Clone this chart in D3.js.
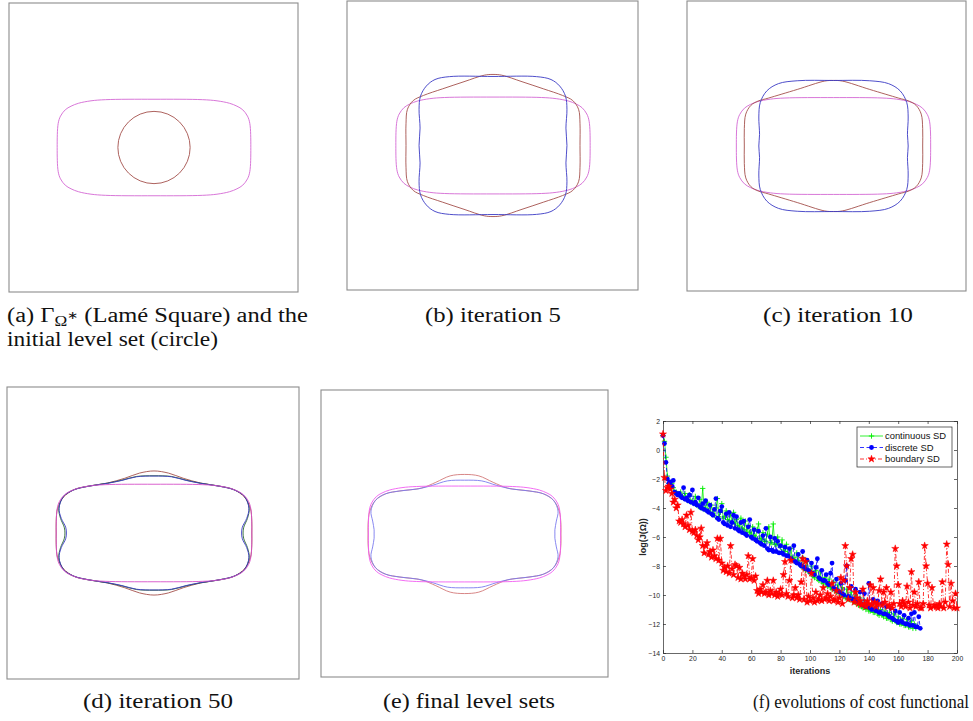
<!DOCTYPE html>
<html>
<head>
<meta charset="utf-8">
<script src="https://cdn.jsdelivr.net/npm/d3@7"></script>
<style>
body { margin: 0; background: #fff; }
svg { display: block; }
.cap { font-family: "Liberation Serif", serif; font-size: 20px; fill: #111; }
.axis text { font-family: "Liberation Sans", Arial, sans-serif; font-size: 6.8px; fill: #262626; }
.axis path, .axis line { stroke: #262626; stroke-width: 0.7; }
</style>
</head>
<body>
<script>
// level set shapes: first quadrant points, in units of half the panel box
var lame = [[0,0.334],[0.335,0.331],[0.436,0.323],[0.523,0.306],[0.574,0.286],[0.614,0.261],[0.647,0.217],[0.663,0.167],[0.67,0]];
var circleR = 0.25;
var brownB = [[0,0.49],[0.06,0.485],[0.2,0.44],[0.35,0.39],[0.48,0.345],[0.55,0.31],[0.59,0.25],[0.60,0.15],[0.60,0]];
var blueB = [[0,0.476],[0.3,0.475],[0.4,0.455],[0.46,0.41],[0.5,0.34],[0.51,0.25],[0.503,0.12],[0.51,0]];
var brownC = [[0,0.452],[0.06,0.448],[0.25,0.39],[0.45,0.33],[0.52,0.31],[0.57,0.28],[0.605,0.22],[0.615,0.12],[0.615,0]];
var blueC = [[0,0.452],[0.25,0.45],[0.38,0.43],[0.46,0.38],[0.505,0.30],[0.515,0.2],[0.51,0.08],[0.515,0]];
var brownD = [[0,0.425],[0.1,0.41],[0.2,0.375],[0.32,0.342],[0.45,0.32],[0.55,0.295],[0.62,0.245],[0.66,0.17],[0.67,0.08],[0.67,0]];
var blueD = [[0,0.39],[0.12,0.385],[0.22,0.36],[0.32,0.34],[0.45,0.32],[0.55,0.295],[0.62,0.25],[0.65,0.17],[0.635,0.1],[0.605,0.04],[0.60,0]];
var greenD = [[0,0.392],[0.12,0.387],[0.22,0.362],[0.32,0.341],[0.45,0.321],[0.55,0.296],[0.62,0.25],[0.652,0.17],[0.64,0.1],[0.615,0.04],[0.61,0]];
var brownE = [[0,0.415],[0.1,0.405],[0.2,0.36],[0.3,0.32],[0.45,0.3],[0.55,0.28],[0.62,0.235],[0.66,0.16],[0.672,0.07],[0.672,0]];
var blueE = [[0,0.375],[0.12,0.37],[0.22,0.34],[0.32,0.315],[0.45,0.3],[0.55,0.28],[0.62,0.235],[0.652,0.16],[0.64,0.09],[0.63,0.03],[0.63,0]];

// cost functional, log(J), one value per iteration
var continuousSD = [1.0, 0.6, -0.5, -1.8, -2.3, -2.4, -2.3, -2.6, -2.9, -2.9,
  -3.0, -3.1, -2.9, -3.2, -3.3, -3.0, -3.4, -3.5, -3.1, -3.6,
  -3.5, -3.7, -3.2, -3.8, -3.9, -3.4, -4.0, -2.65, -4.1, -4.0,
  -3.6, -4.2, -4.3, -3.8, -4.4, -4.5, -4.0, -3.35, -4.6, -4.3,
  -3.7, -4.7, -4.6, -4.2, -4.8, -4.9, -4.4, -5.0, -4.3, -5.1,
  -4.8, -5.2, -5.3, -4.7, -5.4, -5.5, -4.9, -5.6, -5.2, -5.7,
  -5.8, -5.3, -5.9, -6.0, -5.5, -5.1, -6.1, -6.2, -5.7, -6.3,
  -6.3, -5.8, -5.3, -6.4, -6.4, -5.1, -6.5, -6.5, -6.0, -6.6,
  -6.7, -6.2, -6.9, -7.0, -6.5, -7.2, -7.3, -6.8, -7.5, -7.4,
  -7.7, -7.1, -7.6, -7.9, -8.0, -7.4, -8.2, -8.3, -7.7, -8.4,
  -8.5, -8.0, -8.7, -8.8, -8.3, -8.9, -9.0, -8.4, -9.1, -9.2,
  -8.8, -9.3, -9.4, -8.9, -9.5, -9.6, -9.1, -9.7, -9.8, -9.3,
  -9.9, -10.0, -9.5, -10.1, -10.2, -9.6, -10.3, -10.3, -9.8, -10.4,
  -10.5, -10.0, -10.6, -10.7, -10.2, -10.8, -10.9, -10.4, -11.0, -10.6,
  -11.1, -11.1, -10.7, -11.2, -11.2, -10.8, -11.3, -11.4, -11.0, -11.4,
  -11.5, -11.1, -11.6, -11.6, -11.2, -11.7, -11.8, -11.3, -11.8, -11.9,
  -11.5, -12.0, -12.0, -11.6, -12.1, -12.1, -11.7, -12.2, -12.2, -11.8,
  -12.3, -12.0, -12.3];
var discreteSD = [1.0, 0.45, -0.85, -2.0, -2.3, -2.2, -2.5, -2.1, -2.9, -3.0,
  -3.1, -3.0, -3.2, -3.3, -2.6, -3.4, -3.3, -3.5, -3.1, -3.6,
  -2.75, -3.7, -3.6, -3.8, -3.3, -3.9, -4.0, -3.7, -4.1, -3.5,
  -4.2, -4.3, -3.8, -4.4, -4.5, -4.1, -3.35, -4.7, -4.8, -4.2,
  -3.9, -5.0, -5.1, -4.4, -5.2, -4.3, -5.3, -5.0, -4.5, -5.4,
  -4.6, -5.5, -5.6, -5.0, -5.7, -4.9, -5.8, -5.9, -5.3, -4.8,
  -6.0, -6.1, -5.5, -6.2, -6.3, -5.6, -6.4, -6.5, -5.9, -6.6,
  -5.4, -6.8, -6.9, -6.0, -6.9, -7.0, -6.1, -7.0, -6.3, -7.1,
  -6.6, -7.1, -7.2, -6.7, -7.3, -7.3, -6.8, -7.5, -7.6, -6.6,
  -7.7, -7.8, -7.2, -7.9, -8.0, -7.0, -8.1, -8.2, -7.6, -8.3,
  -8.4, -7.8, -8.5, -8.6, -8.1, -7.5, -8.8, -8.9, -8.3, -9.0,
  -9.0, -8.6, -9.2, -9.3, -8.5, -7.8, -9.5, -9.6, -8.9, -9.7,
  -9.8, -9.2, -9.9, -10.0, -9.0, -8.0, -10.1, -10.2, -9.4, -10.3,
  -10.3, -9.6, -10.4, -10.5, -9.8, -10.6, -10.7, -9.9, -10.8, -10.8,
  -9.2, -10.9, -11.0, -10.3, -11.0, -11.1, -10.4, -11.2, -11.2, -10.6,
  -11.3, -11.3, -10.8, -11.4, -11.5, -10.9, -11.6, -11.7, -11.1, -11.8,
  -11.9, -11.2, -11.8, -11.9, -11.4, -12.0, -12.0, -11.6, -12.1, -11.3,
  -12.1, -11.2, -12.2, -12.2, -11.5, -12.3];
var boundarySD = [1.1, -1.9, -2.8, -2.6, -2.5, -2.7, -3.0, -3.6, -3.4, -4.0,
  -3.8, -4.9, -5.0, -4.8, -5.1, -5.3, -4.5, -5.2, -5.5, -4.3,
  -5.6, -5.7, -5.5, -5.9, -6.2, -6.0, -5.4, -6.6, -7.1, -6.6,
  -6.4, -7.2, -7.0, -7.4, -6.9, -7.3, -7.5, -6.1, -7.6, -6.1,
  -7.8, -8.3, -8.1, -8.4, -8.0, -8.5, -6.6, -8.2, -8.6, -7.9,
  -8.0, -8.8, -8.1, -8.9, -8.5, -8.7, -8.9, -8.6, -7.3, -8.9,
  -8.8, -7.5, -9.0, -8.7, -9.7, -9.9, -9.6, -9.8, -9.3, -9.9,
  -9.8, -9.0, -10.0, -9.7, -9.9, -9.0, -10.0, -9.8, -10.1, -9.9,
  -9.6, -10.0, -8.6, -7.7, -9.9, -10.1, -9.0, -7.6, -10.2, -10.0,
  -9.5, -10.2, -10.0, -10.3, -9.1, -7.5, -10.3, -7.7, -10.5, -10.1,
  -10.4, -8.5, -10.2, -10.5, -9.8, -10.4, -10.3, -10.0, -10.4, -9.5,
  -10.3, -10.2, -9.9, -10.4, -10.1, -9.2, -10.4, -10.3, -9.7, -10.5,
  -10.2, -8.8, -10.6, -9.0, -6.6, -8.0, -10.3, -9.5, -7.5, -7.2,
  -10.5, -9.8, -10.2, -10.6, -10.4, -10.7, -9.6, -10.6, -10.8, -10.4,
  -10.6, -9.3, -10.7, -9.5, -10.5, -10.8, -10.6, -9.7, -8.9, -10.7,
  -9.8, -10.5, -9.5, -10.8, -10.7, -9.8, -10.9, -10.6, -6.8, -8.0,
  -9.3, -10.6, -10.8, -10.4, -10.6, -10.8, -9.4, -10.5, -10.9, -8.4,
  -10.7, -9.8, -10.8, -10.6, -9.1, -10.9, -10.9, -10.6, -6.6, -8.0,
  -9.2, -10.7, -10.9, -9.5, -10.8, -10.7, -10.8, -10.9, -10.6, -10.8,
  -9.1, -10.9, -10.5, -6.5, -7.9, -10.8, -9.2, -10.4, -10.9, -9.9,
  -10.9];
var seriesNames = ["continuous SD", "discrete SD", "boundary SD"];
var xTicks = [0, 20, 40, 60, 80, 100, 120, 140, 160, 180, 200];
var yTicks = [-14, -12, -10, -8, -6, -4, -2, 0, 2];

var W = 973, H = 721;
var svg = d3.select("body").append("svg").attr("width", W).attr("height", H);

// mirror a first-quadrant list into a closed ring
function ring(q) {
  var pts = [];
  q.forEach(function (p) { pts.push([p[0], p[1]]); });
  q.slice(0, -1).reverse().forEach(function (p) { pts.push([p[0], -p[1]]); });
  q.slice(1).forEach(function (p) { pts.push([-p[0], -p[1]]); });
  q.slice(1, -1).reverse().forEach(function (p) { pts.push([-p[0], p[1]]); });
  return pts;
}

var colMag = "#d468d4", colBrown = "#a4504c", colBlue = "#3a3ac4", colGreen = "#2f6a2f";

var panels = [
  { box: [9, 3, 298, 292], cx: 154, cy: 147.5, s: 144.5,
    curves: [[lame, colMag]], circle: true },
  { box: [347, 1, 638, 290], cx: 493, cy: 145.5, s: 145,
    curves: [[lame, colMag], [brownB, colBrown], [blueB, colBlue]] },
  { box: [687, 1, 966, 291], cx: 833.5, cy: 146, s: 145,
    curves: [[lame, colMag], [brownC, colBrown], [blueC, colBlue]] },
  { box: [7, 387, 299, 679], cx: 154, cy: 533, s: 146,
    curves: [[brownD, colBrown], [greenD, colGreen], [blueD, colBlue], [lame, "#d650c8"]] },
  { box: [321, 390, 608, 677], cx: 464.5, cy: 534, s: 143.5,
    curves: [[brownE, "#d27878"], [blueE, "#7a7aee"], [lame, "#f25cf2"]] }
];

panels.forEach(function (p) {
  var g = svg.append("g");
  g.append("rect").attr("x", p.box[0]).attr("y", p.box[1])
    .attr("width", p.box[2] - p.box[0]).attr("height", p.box[3] - p.box[1])
    .attr("fill", "none").attr("stroke", "#8c8c8c").attr("stroke-width", 1.1);
  var px = d3.scaleLinear().domain([-1, 1]).range([p.cx - p.s, p.cx + p.s]);
  var py = d3.scaleLinear().domain([-1, 1]).range([p.cy + p.s, p.cy - p.s]);
  var line = d3.line().x(function (d) { return px(d[0]); }).y(function (d) { return py(d[1]); })
    .curve(d3.curveCatmullRomClosed.alpha(0.5));
  p.curves.forEach(function (c) {
    g.append("path").attr("d", line(ring(c[0]))).attr("fill", "none")
      .attr("stroke", c[1]).attr("stroke-width", 0.9);
  });
  if (p.circle) {
    g.append("circle").attr("cx", px(0)).attr("cy", py(0)).attr("r", px(circleR) - px(0))
      .attr("fill", "none").attr("stroke", colBrown).attr("stroke-width", 0.9);
  }
});

// captions (widths matched to the reference)
var capA = svg.append("text").attr("class", "cap").attr("x", 7).attr("y", 322)
  .attr("textLength", 301).attr("lengthAdjust", "spacingAndGlyphs");
capA.append("tspan").text("(a) \u0393");
capA.append("tspan").attr("dy", 4).attr("font-size", "14px").text("\u03A9");
capA.append("tspan").attr("dy", -7).attr("font-size", "11px").text("\u2217");
capA.append("tspan").attr("dy", 3).text(" (Lam\u00e9 Square) and the");
svg.append("text").attr("class", "cap").attr("x", 7).attr("y", 346)
  .attr("textLength", 211).attr("lengthAdjust", "spacingAndGlyphs").text("initial level set (circle)");
[["(b) iteration 5", 493, 322, 136, 20], ["(c) iteration 10", 838, 322, 150, 20],
 ["(d) iteration 50", 158, 708, 150, 20], ["(e) final level sets", 469, 708, 172, 20],
 ["(f) evolutions of cost functional", 861, 708, 216, 19]].forEach(function (c) {
  svg.append("text").attr("class", "cap").attr("x", c[1] - c[3] / 2).attr("y", c[2])
    .style("font-size", c[4] + "px")
    .attr("textLength", c[3]).attr("lengthAdjust", "spacingAndGlyphs").text(c[0]);
});

// (f) cost functional plot
var x = d3.scaleLinear().domain([0, 200]).range([663, 957]);
var y = d3.scaleLinear().domain([-14, 2]).range([653, 421]);
var f = svg.append("g");

f.append("g").attr("class", "axis").attr("transform", "translate(0,653)")
  .call(d3.axisBottom(x).tickValues(xTicks).tickSize(-3).tickSizeOuter(0).tickPadding(3));
f.append("g").attr("class", "axis").attr("transform", "translate(0,421)")
  .call(d3.axisTop(x).tickValues(xTicks).tickSize(-3).tickSizeOuter(0).tickFormat(""));
f.append("g").attr("class", "axis").attr("transform", "translate(663,0)")
  .call(d3.axisLeft(y).tickValues(yTicks).tickSize(-3).tickSizeOuter(0).tickPadding(3));
f.append("g").attr("class", "axis").attr("transform", "translate(957,0)")
  .call(d3.axisRight(y).tickValues(yTicks).tickSize(-3).tickSizeOuter(0).tickFormat(""));

var styles = [
  { data: continuousSD, color: "#00ee00", dash: null, mark: "plus" },
  { data: discreteSD, color: "#0000ff", dash: "4,2.5", mark: "dot" },
  { data: boundarySD, color: "#ff0000", dash: "4,2,1,2", mark: "star" }
];
var valueline = d3.line()
  .x(function (d, i) { return x(i); })
  .y(function (d) { return y(d); });
var star = d3.symbol().type(d3.symbolStar).size(16);

function marker(sel, st) {
  if (st.mark === "plus") {
    sel.append("path").attr("d", "M-2.7,0H2.7M0,-2.7V2.7")
      .attr("stroke", st.color).attr("stroke-width", 0.9).attr("fill", "none");
  } else if (st.mark === "dot") {
    sel.append("circle").attr("r", 2.4).attr("fill", st.color);
  } else {
    sel.append("path").attr("d", star()).attr("fill", st.color)
      .attr("stroke", st.color).attr("stroke-width", 0.5);
  }
}

styles.forEach(function (st) {
  f.append("path").datum(st.data).attr("d", valueline)
    .attr("fill", "none").attr("stroke", st.color).attr("stroke-width", 0.8)
    .attr("stroke-dasharray", st.dash);
  f.append("g").selectAll("g").data(st.data).enter().append("g")
    .attr("transform", function (d, i) { return "translate(" + x(i) + "," + y(d) + ")"; })
    .each(function () { marker(d3.select(this), st); });
});

// axis labels
f.append("text").attr("x", 810).attr("y", 674).attr("text-anchor", "middle")
  .attr("font-family", "Liberation Sans, Arial, sans-serif").attr("font-size", "9px")
  .attr("font-weight", "bold").attr("fill", "#262626").text("iterations");
f.append("text").attr("transform", "translate(646,537) rotate(-90)").attr("text-anchor", "middle")
  .attr("font-family", "Liberation Sans, Arial, sans-serif").attr("font-size", "9px")
  .attr("font-weight", "bold").attr("fill", "#262626").text("log(J(\u03A9))");

// legend
var lg = f.append("g");
lg.append("rect").attr("x", 857).attr("y", 427).attr("width", 95).attr("height", 40)
  .attr("fill", "#fff").attr("stroke", "#262626").attr("stroke-width", 0.7);
styles.forEach(function (st, i) {
  var ly = 436 + i * 11.5;
  lg.append("line").attr("x1", 860).attr("x2", 883).attr("y1", ly).attr("y2", ly)
    .attr("stroke", st.color).attr("stroke-width", 0.8).attr("stroke-dasharray", st.dash);
  marker(lg.append("g").attr("transform", "translate(871.5," + ly + ")"), st);
  lg.append("text").attr("x", 885).attr("y", ly + 3.3)
    .attr("font-family", "Liberation Sans, Arial, sans-serif").attr("font-size", "9.4px")
    .attr("fill", "#111").text(seriesNames[i]);
});
</script>
</body>
</html>
